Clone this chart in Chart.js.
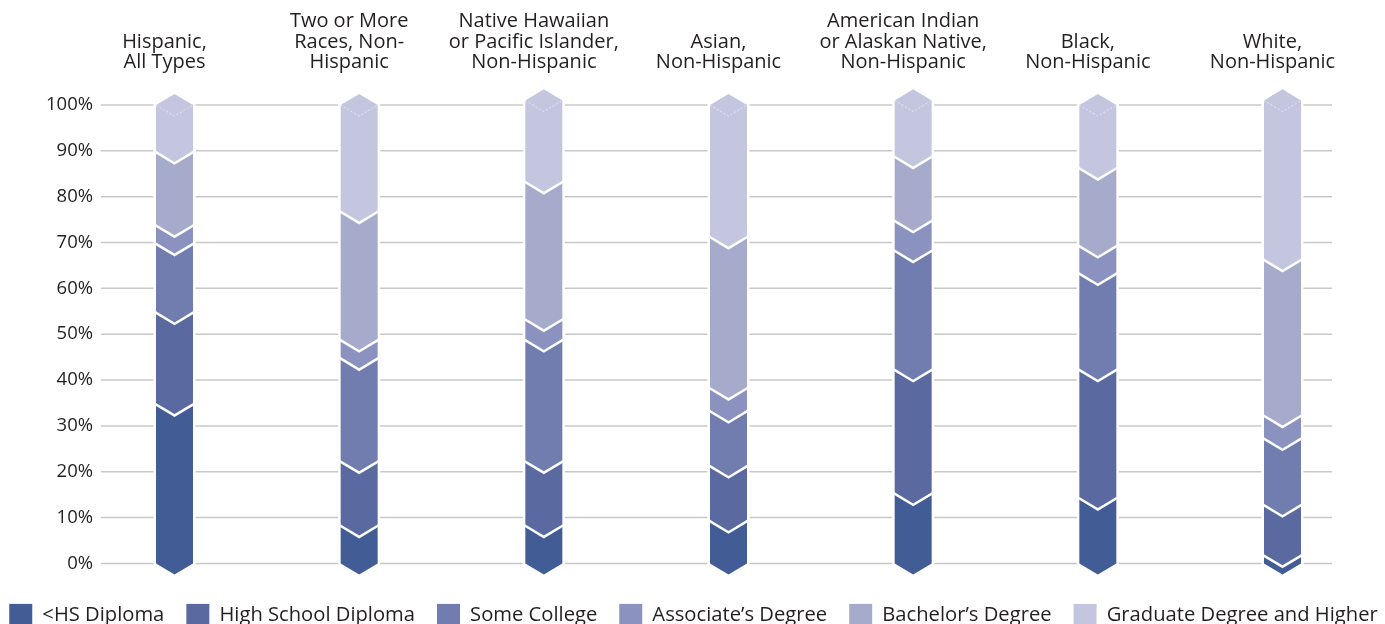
<!DOCTYPE html>
<html>
<head>
<meta charset="utf-8">
<script src="https://cdn.jsdelivr.net/npm/chart.js@4/dist/chart.umd.min.js"></script>
<style>
  html, body { margin: 0; padding: 0; background: #fff; overflow: hidden; }
  #chart { display: block; margin-left: -29px; }
</style>
</head>
<body>
<canvas id="chart" width="1445" height="648"></canvas>
<script>
// categories (top labels, split into lines)
const categories = [
  ["Hispanic,", "All Types"],
  ["Two or More", "Races, Non-", "Hispanic"],
  ["Native Hawaiian", "or Pacific Islander,", "Non-Hispanic"],
  ["Asian,", "Non-Hispanic"],
  ["American Indian", "or Alaskan Native,", "Non-Hispanic"],
  ["Black,", "Non-Hispanic"],
  ["White,", "Non-Hispanic"]
];

// share of each group, percent
const lessThanHS   = [35, 8.5, 8.5, 9.5, 15.5, 14.5, 2];
const hsDiploma    = [20, 14, 14, 12, 27, 28, 11];
const someCollege  = [15, 22.5, 26.5, 12, 26, 21, 14.5];
const associates   = [4, 4, 4.5, 5, 6.5, 6, 5];
const bachelors    = [16, 28, 30, 33, 14, 17, 34];
const graduate     = [10, 23, 17.5, 28.5, 12, 13.5, 34.5];

const seriesNames = ["<HS Diploma", "High School Diploma", "Some College", "Associate\u2019s Degree", "Bachelor\u2019s Degree", "Graduate Degree and Higher"];
const seriesColors = ["#425c96", "#5a6aa0", "#717dae", "#8c92bf", "#a6abcb", "#c4c6df"];

const yTicks = [0, 10, 20, 30, 40, 50, 60, 70, 80, 90, 100];

const FONT = "'Open Sans', sans-serif";
const TEXT = "#231f20";
// canvas is wider than the page so the legend fits on one row
const PAD_LEFT = 29;
const PAD_RIGHT = 31;

// chevron-shaped stacked bars + horizontal rules
const chevronBars = {
  id: "chevronBars",
  afterLayout(chart) {
    // push the legend down a bit from the plot
    chart.legend.top += 18.5;
    chart.legend.bottom += 18.5;
  },
  beforeDatasetsDraw(chart) {
    const ctx = chart.ctx;
    const yScale = chart.scales.y;
    const area = chart.chartArea;
    ctx.save();
    ctx.strokeStyle = "#c8c8c8";
    ctx.lineWidth = 1.5;
    yTicks.forEach(v => {
      const py = yScale.getPixelForValue(v);
      ctx.beginPath();
      ctx.moveTo(area.left - 73.5, py);
      ctx.lineTo(area.right + 49.5, py);
      ctx.stroke();
    });

    const last = chart.data.datasets.length - 1;
    chart.data.datasets.forEach((ds, di) => {
      const meta = chart.getDatasetMeta(di);
      meta.data.forEach(bar => {
        const half = bar.width / 2;
        const d = half * 0.6;
        const isTop = di === last;
        ctx.beginPath();
        ctx.moveTo(bar.x - half, bar.y);
        ctx.lineTo(bar.x, isTop ? bar.y - d : bar.y + d);
        ctx.lineTo(bar.x + half, bar.y);
        ctx.lineTo(bar.x + half, bar.base);
        ctx.lineTo(bar.x, bar.base + d);
        ctx.lineTo(bar.x - half, bar.base);
        ctx.closePath();
        ctx.lineJoin = "miter";
        ctx.lineWidth = 5;
        ctx.strokeStyle = "#ffffff";
        ctx.stroke();
        ctx.fillStyle = ds.backgroundColor;
        ctx.fill();
        if (isTop) {
          // faint dotted notch inside the top cap
          ctx.save();
          ctx.setLineDash([2, 2]);
          ctx.lineWidth = 1;
          ctx.strokeStyle = "rgba(255,255,255,0.55)";
          ctx.beginPath();
          ctx.moveTo(bar.x - half, bar.y);
          ctx.lineTo(bar.x, bar.y + d);
          ctx.lineTo(bar.x + half, bar.y);
          ctx.stroke();
          ctx.restore();
        }
      });
    });
    ctx.restore();
    return false;
  }
};

const allSeries = [lessThanHS, hsDiploma, someCollege, associates, bachelors, graduate];

new Chart(document.getElementById("chart"), {
  type: "bar",
  data: {
    labels: categories,
    datasets: allSeries.map((vals, i) => ({
      label: seriesNames[i],
      data: vals,
      backgroundColor: seriesColors[i],
      borderWidth: 0,
      barThickness: 37
    }))
  },
  options: {
    responsive: false,
    animation: false,
    devicePixelRatio: 1,
    layout: { padding: 0 },
    plugins: {
      tooltip: { enabled: false },
      legend: {
        position: "bottom",
        labels: {
          boxWidth: 23,
          boxHeight: 23,
          padding: 22,
          color: TEXT,
          font: { family: FONT, size: 20.2 }
        }
      }
    },
    scales: {
      x: {
        position: "top",
        stacked: true,
        offset: false,
        grid: { display: false },
        border: { display: false },
        ticks: {
          autoSkip: false,
          maxRotation: 0,
          padding: 24,
          labelOffset: -10,
          color: TEXT,
          font: { family: FONT, size: 20, lineHeight: 1.025 }
        },
        afterFit: s => { s.height = 105; }
      },
      y: {
        stacked: true,
        min: 0,
        max: 100,
        grid: { display: false },
        border: { display: false },
        ticks: {
          stepSize: 10,
          padding: 73.5,
          color: TEXT,
          font: { family: FONT, size: 18.5 },
          callback: v => v + "%"
        },
        afterFit: s => { s.width = 174.5 + PAD_LEFT; }
      },
      yRight: {
        position: "right",
        min: 0,
        max: 100,
        grid: { display: false },
        border: { display: false },
        ticks: { display: false },
        afterFit: s => { s.width = 102.5 + PAD_RIGHT; }
      }
    }
  },
  plugins: [chevronBars]
});
</script>
</body>
</html>
